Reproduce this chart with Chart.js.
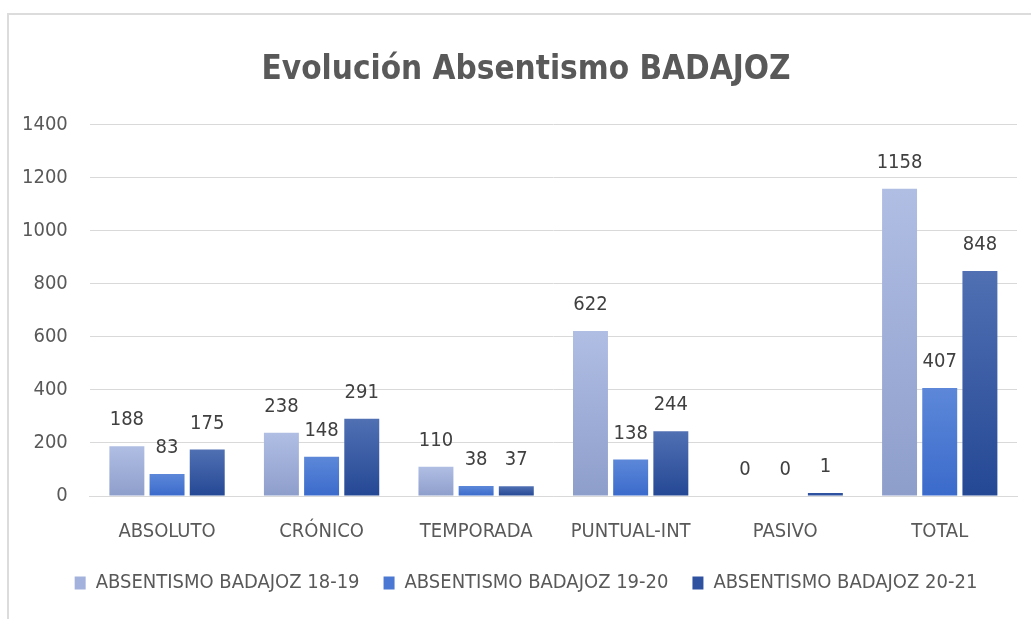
<!DOCTYPE html>
<html>
<head>
<meta charset="utf-8">
<script src="https://cdn.jsdelivr.net/npm/chart.js@4.4.0/dist/chart.umd.min.js"></script>
<style>
  html, body { margin: 0; padding: 0; background: #ffffff; }
  #wrap { position: relative; width: 1031px; height: 619px; overflow: hidden; }
  #frame { position: absolute; left: 7px; top: 13px; width: 1040px; height: 620px;
           border-top: 2px solid #dcdcdc; border-left: 2px solid #dcdcdc; box-sizing: border-box; }
  canvas { position: absolute; left: 0; top: 0; }
</style>
</head>
<body>
<div id="wrap">
  <div id="frame"></div>
  <canvas id="c" width="1031" height="619"></canvas>
</div>
<script>
const titleText = "Evolución Absentismo BADAJOZ";
const categories = ["ABSOLUTO", "CRÓNICO", "TEMPORADA", "PUNTUAL-INT", "PASIVO", "TOTAL"];
const seriesNames = ["ABSENTISMO BADAJOZ 18-19", "ABSENTISMO BADAJOZ 19-20", "ABSENTISMO BADAJOZ 20-21"];
const values1819 = [188, 238, 110, 622, 0, 1158];
const values1920 = [83, 148, 38, 138, 0, 407];
const values2021 = [175, 291, 37, 244, 1, 848];
const yTicks = [0, 200, 400, 600, 800, 1000, 1200, 1400];

const FONT = "'DejaVu Sans Condensed', 'Liberation Sans Narrow', 'Open Sans', sans-serif";
const palettes = [
  { top: "#b0bee4", bottom: "#8e9ecb", legend: "#a3b2dc" },
  { top: "#5d88d9", bottom: "#3a6acb", legend: "#4a78d2" },
  { top: "#5070b3", bottom: "#254895", legend: "#2f52a0" }
];

function gradFor(idx) {
  return function(ctx) {
    const chart = ctx.chart;
    const area = chart.chartArea;
    if (!area || ctx.type !== 'data') return palettes[idx].legend;
    const ys = chart.scales.y;
    const yTop = ys.getPixelForValue(ctx.raw);
    const yBot = ys.getPixelForValue(0);
    if (Math.abs(yBot - yTop) < 1) return palettes[idx].legend;
    const g = chart.ctx.createLinearGradient(0, yTop, 0, yBot);
    g.addColorStop(0, palettes[idx].top);
    g.addColorStop(1, palettes[idx].bottom);
    return g;
  };
}

const valueLabels = {
  id: 'valueLabels',
  afterDatasetsDraw(chart) {
    const ctx = chart.ctx;
    ctx.save();
    ctx.font = "20px " + FONT;
    ctx.fillStyle = "#404040";
    ctx.textAlign = "center";
    ctx.textBaseline = "bottom";
    chart.data.datasets.forEach((ds, i) => {
      const meta = chart.getDatasetMeta(i);
      meta.data.forEach((bar, j) => {
        ctx.fillText(String(ds.data[j]), bar.x, Math.min(bar.y, chart.scales.y.getPixelForValue(0)) - 16);
      });
    });
    ctx.restore();
  }
};

// shift title and legend so they are centred like the original
const centerShift = {
  id: 'centerShift',
  afterLayout(chart) {
    [chart.titleBlock, chart.legend].forEach(b => {
      if (b) { b.left += 16; b.right += 16; }
    });
  }
};

const datasets = [values1819, values1920, values2021].map((vals, i) => ({
  label: seriesNames[i],
  data: vals,
  backgroundColor: gradFor(i),
  borderWidth: 0,
  minBarLength: i === 2 ? 3 : 0,
  categoryPercentage: 0.78,
  barPercentage: 0.87
}));

new Chart(document.getElementById('c'), {
  type: 'bar',
  data: { labels: categories, datasets: datasets },
  options: {
    responsive: false,
    animation: false,
    layout: { padding: { top: 14, left: 3, right: 14, bottom: 16 } },
    plugins: {
      title: {
        display: true,
        text: titleText,
        color: "#595959",
        font: { family: FONT, size: 33, weight: 'bold' },
        padding: { top: 37, bottom: 34 }
      },
      legend: {
        position: 'bottom',
        labels: {
          color: "#595959",
          font: { family: FONT, size: 20 },
          boxWidth: 11,
          boxHeight: 13,
          padding: 24,
          generateLabels(chart) {
            return chart.data.datasets.map((ds, i) => ({
              text: ds.label,
              fillStyle: palettes[i].legend,
              strokeStyle: palettes[i].legend,
              lineWidth: 0,
              datasetIndex: i,
              fontColor: "#595959"
            }));
          }
        }
      },
      tooltip: { enabled: false }
    },
    scales: {
      x: {
        grid: { display: false },
        border: { display: true, color: "#d9d9d9", width: 1 },
        ticks: { color: "#595959", font: { family: FONT, size: 20 }, padding: 16 },
        afterFit(scale) { scale.height -= 11; }
      },
      y: {
        min: 0,
        max: 1400,
        afterBuildTicks(axis) { axis.ticks = yTicks.map(v => ({ value: v })); },
        grid: { color: "#d9d9d9", lineWidth: 1, drawTicks: false },
        border: { display: false },
        ticks: { color: "#595959", font: { family: FONT, size: 20 }, padding: 22,
                 callback: (v) => String(v) },
        afterFit(scale) { scale.width -= 3; }
      }
    }
  },
  plugins: [valueLabels, centerShift]
});
</script>
</body>
</html>
